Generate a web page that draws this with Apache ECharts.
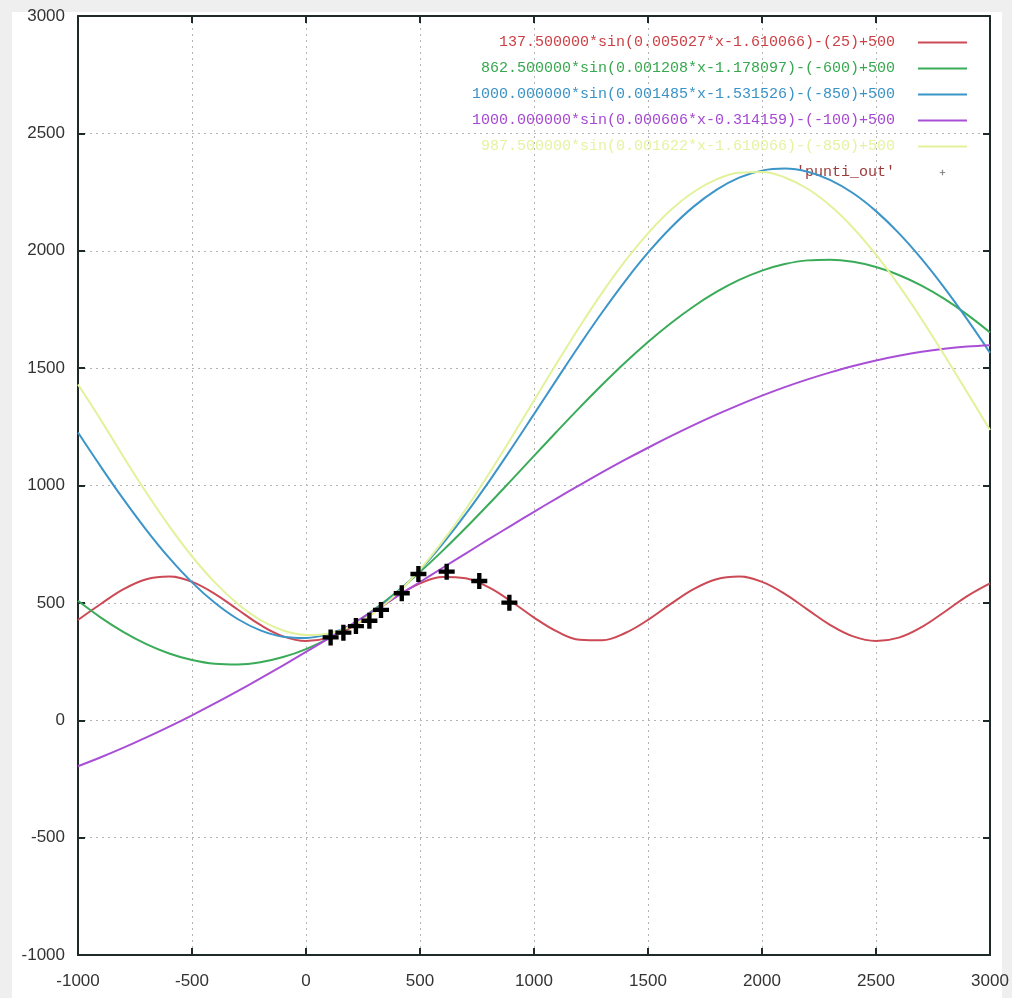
<!DOCTYPE html>
<html><head><meta charset="utf-8">
<script src="https://cdn.jsdelivr.net/npm/echarts@6/dist/echarts.min.js"></script>
<style>
html,body{margin:0;padding:0;background:#efefef;overflow:hidden;}
#panel{position:absolute;left:12px;top:12px;width:990px;height:986px;background:#fff;}
#chart{position:absolute;left:0;top:0;width:1012px;height:998px;}
</style></head><body><div id="panel"></div><div id="chart"></div>
<script>
// sample abscissas
const xs = [-1000,-900,-800,-700,-600,-500,-400,-300,-200,-100,0,100,200,300,400,500,600,700,800,900,1000,
  1100,1200,1300,1400,1500,1600,1700,1800,1900,2000,2100,2200,2300,2400,2500,2600,2700,2800,2900,3000];

const redVals = [427.3,495.3,558.3,600.7,612.0,589.3,538.5,471.8,405.9,357.3,337.6,352.0,396.6,461.0,528.7,583.0,610.6,604.7,566.7,506.0,437.5,
  378.4,343.0,340.7,371.6,427.6,495.6,558.6,600.9,612.0,589.2,538.3,471.5,405.6,357.1,337.6,352.1,396.9,461.3,528.9,583.2];
const greenVals = [508.8,437.4,375.7,324.5,284.6,256.7,241.0,237.9,247.3,269.2,303.2,348.9,405.3,472.1,548.0,631.7,722.5,818.7,919.0,1022.0,1126.1,
  1229.9,1331.7,1430.2,1523.9,1611.3,1691.3,1762.7,1824.4,1875.6,1915.5,1943.3,1959.0,1962.1,1952.7,1930.8,1896.9,1851.2,1794.6,1727.7,1651.9];
const blueVals = [1225.7,1080.2,940.6,810.1,691.4,587.4,500.3,431.3,383.0,356.0,350.8,367.6,406.1,465.3,544.0,640.5,752.6,877.8,1013.5,1156.6,1303.9,
  1452.2,1598.3,1738.9,1871.0,1991.6,2098.0,2188.0,2259.5,2311.2,2341.4,2349.9,2336.4,2301.0,2244.9,2168.8,2075.0,1965.2,1841.7,1707.4,1565.2];
const purpleVals = [-196.0,-157.8,-116.9,-73.3,-27.3,21.1,71.6,124.1,178.2,233.9,291.0,349.2,408.3,468.1,528.5,589.0,649.7,710.1,770.1,829.5,888.1,
  945.6,1001.8,1056.6,1109.8,1160.8,1210.0,1257.0,1301.6,1343.5,1382.7,1419.0,1452.1,1481.9,1509.2,1532.8,1552.7,1569.6,1582.6,1592.0,1597.8];
const yellowVals = [1430.0,1279.5,1121.3,969.1,827.1,698.6,587.2,496.4,427.1,382.4,363.3,370.0,402.3,459.8,540.5,642.1,762.7,898.0,1046.5,1202.3,1362.1,
  1521.4,1676.2,1822.5,1956.4,2074.3,2173.2,2250.4,2304.1,2332.7,2335.5,2312.3,2264.1,2191.4,2097.1,1983.0,1852.2,1708.4,1555.1,1396.4,1236.5];

const puntiX = [108,164,219,278,329,420,493,617,760,892];
const puntiY = [353,373,401,424,470,541,623,633,593,501];

const names = [
  "137.500000*sin(0.005027*x-1.610066)-(25)+500",
  "862.500000*sin(0.001208*x-1.178097)-(-600)+500",
  "1000.000000*sin(0.001485*x-1.531526)-(-850)+500",
  "1000.000000*sin(0.000606*x-0.314159)-(-100)+500",
  "987.500000*sin(0.001622*x-1.610066)-(-850)+500",
  "'punti_out'"
];
const lineColors = ['#cc4a55','#3aab58','#3c95c8','#a94fd6','#e2f29a'];
const textColors = ['#cc3f45','#36a84e','#3a93c6','#a548d2','#e4f3a0','#9c3a3a'];

const seriesVals = [redVals, greenVals, blueVals, purpleVals, yellowVals];
const plus = 'path://M4,0 H7 V4 H11 V7 H7 V11 H4 V7 H0 V4 H4 Z';

const series = seriesVals.map((vals, i) => ({
  name: names[i],
  type: 'line',
  smooth: 0.4,
  symbol: 'none',
  lineStyle: { color: lineColors[i], width: 2 },
  itemStyle: { color: lineColors[i] },
  data: xs.map((x, j) => [x, vals[j]]),
  z: 3 + i
}));
series.push({
  name: names[5],
  type: 'scatter',
  symbol: plus,
  symbolSize: 16,
  itemStyle: { color: '#000', opacity: 1 },
  data: puntiX.map((x, j) => [x, puntiY[j]]),
  z: 10
});

const legendData = names.map((n, i) => {
  const o = { name: n, textStyle: { color: textColors[i] } };
  if (i === 5) {
    o.icon = 'path://M-9,-9 M9,9 M-0.8,-3.5 H0.8 V-0.8 H3.5 V0.8 H0.8 V3.5 H-0.8 V0.8 H-3.5 V-0.8 H-0.8 Z';
    o.itemStyle = { color: '#8a8a8a', opacity: 1 };
  } else {
    o.icon = 'path://M0,0 H49 V2 H0 Z';
  }
  return o;
});

const fmt = v => String(v);
const axisCommon = { type: 'value', min: -1000, max: 3000, interval: 500 };
const lineSt = { color: '#1e2a2a', width: 2 };

const chart = echarts.init(document.getElementById('chart'), null, { renderer: 'canvas' });
chart.setOption({
  animation: false,
  backgroundColor: 'transparent',
  grid: { left: 78, right: 22, top: 16, bottom: 43, containLabel: false },
  legend: {
    orient: 'vertical',
    right: 40,
    top: 30,
    align: 'right',
    itemWidth: 49,
    itemHeight: 14,
    itemGap: 11,
    formatter: n => n + '  ',
    textStyle: { fontFamily: 'Liberation Mono', fontSize: 15 },
    data: legendData,
    selectedMode: false
  },
  xAxis: [
    Object.assign({}, axisCommon, {
      position: 'bottom',
      axisLine: { show: true, onZero: false, lineStyle: lineSt },
      axisTick: { show: true, inside: true, length: 7, lineStyle: lineSt },
      axisLabel: { color: '#333', fontFamily: 'Liberation Sans', fontSize: 17, margin: 18, formatter: fmt },
      splitLine: { show: true, lineStyle: { color: '#b4b4b4', type: [2, 4], width: 1 } }
    }),
    Object.assign({}, axisCommon, {
      position: 'top',
      axisLine: { show: true, onZero: false, lineStyle: lineSt },
      axisTick: { show: true, inside: true, length: 7, lineStyle: lineSt },
      axisLabel: { show: false },
      splitLine: { show: false }
    })
  ],
  yAxis: [
    Object.assign({}, axisCommon, {
      position: 'left',
      axisLine: { show: true, onZero: false, lineStyle: lineSt },
      axisTick: { show: true, inside: true, length: 7, lineStyle: lineSt },
      axisLabel: { color: '#333', fontFamily: 'Liberation Sans', fontSize: 17, margin: 13, formatter: fmt },
      splitLine: { show: true, lineStyle: { color: '#b4b4b4', type: [2, 4], width: 1 } }
    }),
    Object.assign({}, axisCommon, {
      position: 'right',
      axisLine: { show: true, onZero: false, lineStyle: lineSt },
      axisTick: { show: true, inside: true, length: 7, lineStyle: lineSt },
      axisLabel: { show: false },
      splitLine: { show: false }
    })
  ],
  series: series
});
</script></body></html>
